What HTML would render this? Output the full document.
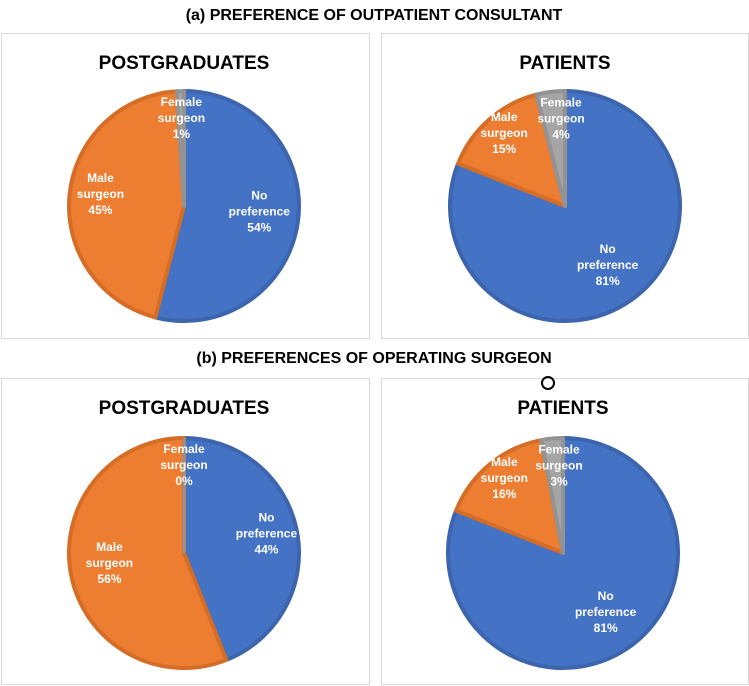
<!DOCTYPE html>
<html><head><meta charset="utf-8"><style>
body{margin:0;background:#fff;}
svg{display:block;font-family:"Liberation Sans",sans-serif;}
</style></head><body>
<svg id="s" width="749" height="686" viewBox="0 0 749 686">
<text x="374" y="20" text-anchor="middle" font-size="16" font-weight="bold" fill="#000">(a) PREFERENCE OF OUTPATIENT CONSULTANT</text>
<text x="374" y="363" text-anchor="middle" font-size="16" font-weight="bold" fill="#000">(b) PREFERENCES OF OPERATING SURGEON</text>
<circle cx="548" cy="383" r="6" fill="none" stroke="#000" stroke-width="2"/>
</svg>
<script>
const categories=["No preference","Male surgeon","Female surgeon"];
const pgOutpatient=[54,45,1];
const ptOutpatient=[81,15,4];
const pgOperating=[44,56,0];
const ptOperating=[81,16,3];
const panelTitles=["POSTGRADUATES","PATIENTS","POSTGRADUATES","PATIENTS"];
const fills=["#4472c4","#ed7d31","#a5a5a5"];
const strokes=["#3c65ad","#d56d27","#939393"];
const panels=[
 {x:1,y:33,w:368,h:305,cx:184,cy:206,vals:pgOutpatient,name:"pg-outpatient"},
 {x:381,y:33,w:367,h:305,cx:565,cy:206,vals:ptOutpatient,name:"pt-outpatient"},
 {x:1,y:378,w:368,h:306,cx:184,cy:553,vals:pgOperating,name:"pg-operating"},
 {x:381,y:378,w:367,h:306,cx:563,cy:553,vals:ptOperating,name:"pt-operating"}];
const svg=document.getElementById('s');
const NS="http://www.w3.org/2000/svg";
const R=115;
function el(t,a){const e=document.createElementNS(NS,t);for(const k in a)e.setAttribute(k,a[k]);return e;}
function pt(cx,cy,r,f){const a=f*2*Math.PI;return [cx+r*Math.sin(a),cy-r*Math.cos(a)];}
panels.forEach((p,pi)=>{
 const box=el('rect',{x:p.x+0.5,y:p.y+0.5,width:p.w,height:p.h,fill:"#fff",stroke:"#d9d9d9"});
 
 
 svg.insertBefore(box,svg.firstChild);
 const t=el('text',{x:p.cx,y:p.y+36,"text-anchor":"middle","font-size":19,"font-weight":"bold",fill:"#000"});
 t.textContent=panelTitles[pi];
 
 
 svg.appendChild(t);
 const tot=p.vals.reduce((a,b)=>a+b,0);
 let acc=0;
 const mids=[];
 p.vals.forEach((v,i)=>{
  const f0=acc/tot,f1=(acc+v)/tot;acc+=v;mids.push([(f0+f1)/2,v/tot]);
  let node;
  if(v<=0){node=el('path',{d:`M${p.cx} ${p.cy}L${p.cx} ${p.cy-R}`,stroke:strokes[i],"stroke-width":3});}
  else{
   const [x0,y0]=pt(p.cx,p.cy,R,f0),[x1,y1]=pt(p.cx,p.cy,R,f1);
   const large=(f1-f0)>0.5?1:0;
   node=el('path',{d:`M${p.cx} ${p.cy}L${x0} ${y0}A${R} ${R} 0 ${large} 1 ${x1} ${y1}Z`,fill:fills[i],stroke:strokes[i],"stroke-width":4,"stroke-linejoin":"round"});
  }
  
  
  svg.appendChild(node);
 });
 p.vals.forEach((v,i)=>{
  const [m,frac]=mids[i];
  let r=R*0.66;
  if(frac<0.5) r=R*0.73;
  if(frac<0.2) r=R*0.8;
  if(frac<0.06) r=R*0.73;
  let [lx,ly]=pt(p.cx,p.cy,r,m);
  if(frac<0.06) lx=Math.max(lx,p.cx-4);
  const words=categories[i].split(' ');
  const lines=[words[0],words[1],v+"%"];
  const g=el('text',{x:lx,y:ly-16,"text-anchor":"middle","font-size":12,"font-weight":"bold",fill:"#fff"});
  lines.forEach((ln,k)=>{const ts=el('tspan',{x:lx,dy:k?16:0});ts.textContent=ln;g.appendChild(ts);});
  
  
  svg.appendChild(g);
 });
});
</script>
</body></html>
